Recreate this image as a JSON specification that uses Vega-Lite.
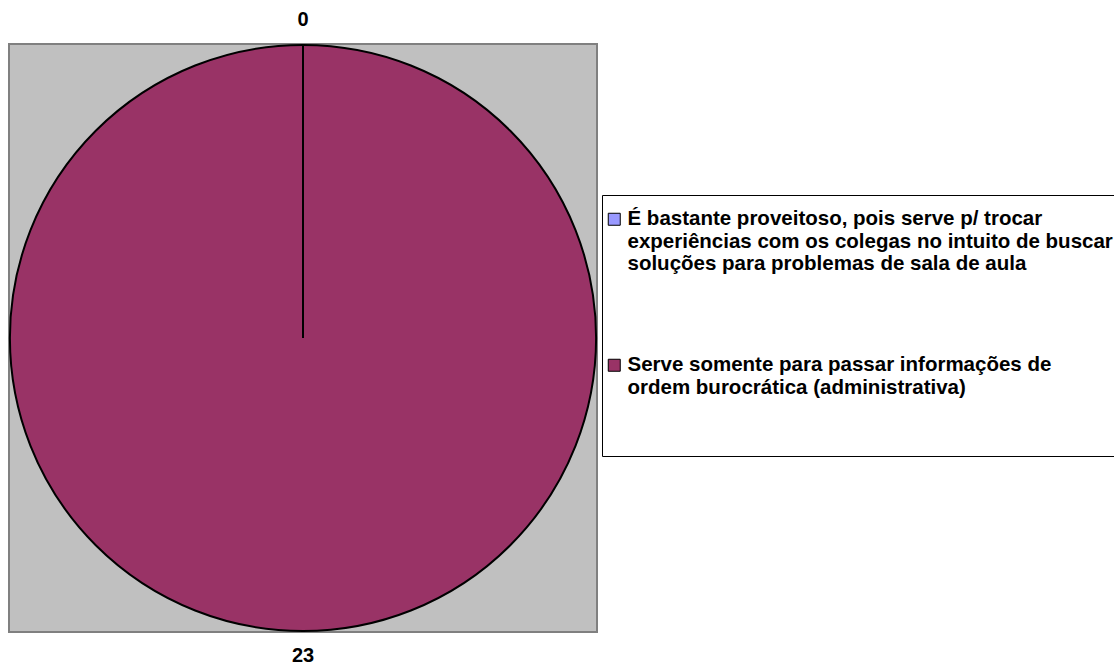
{
  "$schema": "https://vega.github.io/schema/vega-lite/v6.json",
  "autosize": {"type": "none"},
  "width": 588,
  "height": 588,
  "padding": {"left": 9, "top": 44, "right": 517, "bottom": 34},
  "background": "white",
  "config": {
    "view": {"stroke": null},
    "font": "Liberation Sans"
  },
  "data": {
    "values": [
      {"categoria": "É bastante proveitoso, pois serve p/ trocar experiências com os colegas no intuito de buscar soluções para problemas de sala de aula", "valor": 0},
      {"categoria": "Serve somente para passar informações de ordem burocrática (administrativa)", "valor": 23}
    ]
  },
  "layer": [
    {
      "data": {"values": [{"x0": 0, "x1": 1, "y0": 0, "y1": 1}]},
      "mark": {"type": "rect", "fill": "#C0C0C0", "stroke": "#808080", "strokeWidth": 2},
      "encoding": {
        "x": {"field": "x0", "type": "quantitative", "scale": {"domain": [0, 1], "nice": false, "zero": false}, "axis": null},
        "x2": {"field": "x1"},
        "y": {"field": "y0", "type": "quantitative", "scale": {"domain": [0, 1], "nice": false, "zero": false}, "axis": null},
        "y2": {"field": "y1"}
      }
    },
    {
      "mark": {"type": "arc", "outerRadius": 293, "strokeWidth": 0},
      "encoding": {
        "theta": {"field": "valor", "type": "quantitative", "stack": true},
        "order": {"field": "valor", "sort": "ascending"},
        "color": {
          "field": "categoria",
          "type": "nominal",
          "scale": {
            "domain": [
              "É bastante proveitoso, pois serve p/ trocar experiências com os colegas no intuito de buscar soluções para problemas de sala de aula",
              "Serve somente para passar informações de ordem burocrática (administrativa)"
            ],
            "range": ["#9999FF", "#993366"]
          },
          "legend": {
            "title": " ",
            "titleFontSize": 1,
            "titlePadding": 11,
            "orient": "none",
            "legendX": 593,
            "legendY": 151,
            "direction": "vertical",
            "padding": 2,
            "strokeColor": "black",
            "fillColor": "white",
            "symbolType": "M-1,-1L1,-1L1,1L-1,1Z M0,14.33L0,14.33",
            "symbolSize": 144,
            "symbolStrokeColor": "black",
            "symbolStrokeWidth": 1,
            "symbolOpacity": 1,
            "labelFont": "Liberation Sans",
            "labelFontWeight": "bold",
            "labelFontSize": 20.5,
            "labelColor": "black",
            "labelLimit": 700,
            "labelOffset": 3,
            "labelLineHeight": 23,
            "labelBaseline": "middle",
            "rowPadding": 47,
            "labelExpr": "datum.label == 'Serve somente para passar informações de ordem burocrática (administrativa)' ? ['Serve somente para passar informações de', 'ordem burocrática (administrativa)'] : ['É bastante proveitoso, pois serve p/ trocar', 'experiências com os colegas no intuito de buscar', 'soluções para problemas de sala de aula']"
          }
        }
      }
    },
    {
      "mark": {"type": "arc", "outerRadius": 293, "fillOpacity": 0, "stroke": "black", "strokeWidth": 2},
      "encoding": {
        "theta": {"field": "valor", "type": "quantitative", "stack": true},
        "order": {"field": "valor", "sort": "ascending"}
      }
    },
    {
      "mark": {"type": "text", "radius": 318, "fontWeight": "bold", "fontSize": 20, "font": "Liberation Sans", "color": "black", "baseline": "middle"},
      "encoding": {
        "theta": {"field": "valor", "type": "quantitative", "stack": true},
        "order": {"field": "valor", "sort": "ascending"},
        "text": {"field": "valor", "type": "quantitative"}
      }
    }
  ]
}
